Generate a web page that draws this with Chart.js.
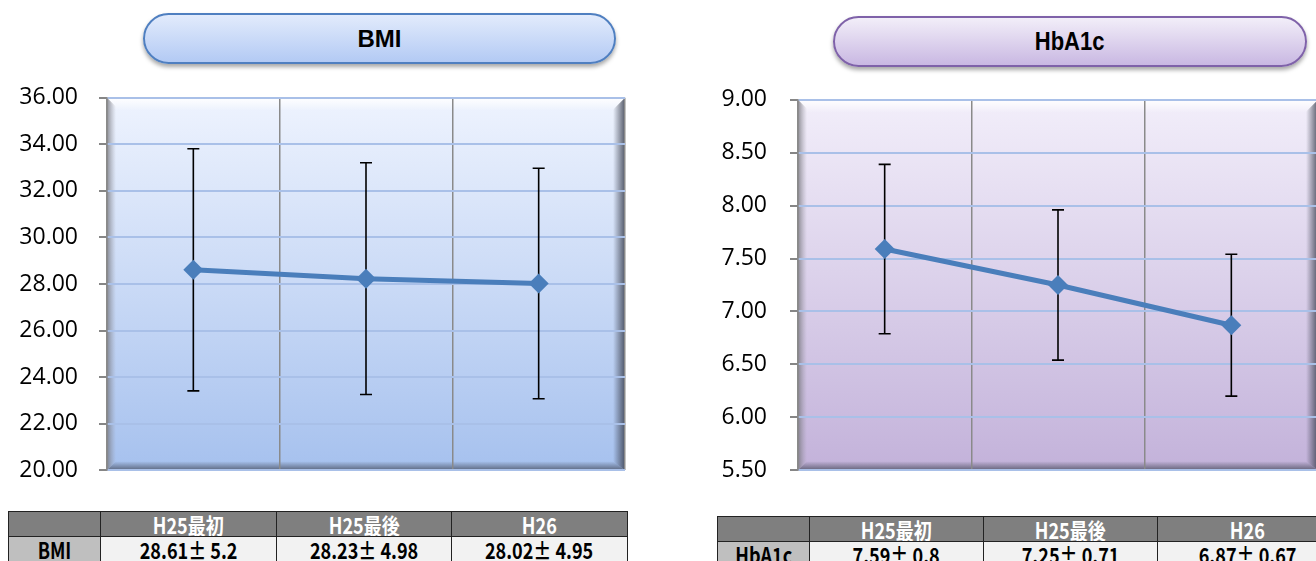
<!DOCTYPE html>
<html>
<head>
<meta charset="utf-8">
<script src="https://cdn.jsdelivr.net/npm/chart.js@4.4.1/dist/chart.umd.min.js"></script>
<style>
  body { margin: 0; width: 1316px; height: 561px; overflow: hidden; background: #fff; position: relative; }
  .title {
    position: absolute; height: 51px; border-radius: 26px; box-sizing: border-box;
    display: flex; align-items: center; justify-content: center;
    font: bold 24px "Liberation Sans", Arial, sans-serif; color: #000;
    box-shadow: 0 3px 4px rgba(0,0,0,0.35);
  }
  #t1 { left: 143px; top: 13px; width: 473px; border: 2px solid #4f7fc0;
        background: linear-gradient(#e2ebfc, #b3caf4); }
  #t2 { left: 833px; top: 16px; width: 474px; border: 2px solid #7f62a9;
        background: linear-gradient(#f2eef9, #c9b8e2); }
  #t2 span { display: inline-block; transform: scaleX(0.88); font-size: 25px; }
  canvas { position: absolute; top: 63px; }
  table { position: absolute; border-collapse: collapse; table-layout: fixed;
          font: bold 22px "Noto Sans CJK JP", sans-serif; }
  td { border: 1.5px solid #222; text-align: center; padding: 0; line-height: 22px; overflow: hidden; white-space: nowrap; }
  tr.head td { background: #7f7f7f; color: #fff; height: 24px; }
  tr.body td { background: #f2f2f2; color: #000; height: 24px; }
  tr.body td:first-child { background: #bfbfbf; }
  td span { display: inline-block; transform: scaleX(0.82); }
</style>
</head>
<body>
<div class="title" id="t1"><span>BMI</span></div>
<div class="title" id="t2"><span>HbA1c</span></div>
<canvas id="bmi" width="660" height="442" style="left:0px"></canvas>
<canvas id="hba" width="680" height="444" style="left:660px"></canvas>
<table id="tab1" style="left:8px; top:511px; width:619px"></table>
<table id="tab2" style="left:717px; top:516px; width:620px"></table>
<script>
// measurement points
const periods = ["H25最初", "H25最後", "H26"];

// BMI mean and SD
const bmiMean = [28.61, 28.23, 28.02];
const bmiSd = [5.2, 4.98, 4.95];
const bmiTicks = { min: 20, max: 36, step: 2 };

// HbA1c mean and SD
const hbaMean = [7.59, 7.25, 6.87];
const hbaSd = [0.8, 0.71, 0.67];
const hbaTicks = { min: 5.5, max: 9, step: 0.5 };

// plot area fill with bevelled edges
const plotBackground = {
  id: "plotBackground",
  beforeDraw(chart, args, opts) {
    const { ctx, chartArea: a } = chart;
    const g = ctx.createLinearGradient(0, a.top, 0, a.bottom);
    g.addColorStop(0, opts.top);
    g.addColorStop(1, opts.bottom);
    ctx.save();
    ctx.fillStyle = g;
    ctx.fillRect(a.left, a.top, a.width, a.height);

    const bw = 9;
    // top highlight
    let lg = ctx.createLinearGradient(0, a.top, 0, a.top + bw + 4);
    lg.addColorStop(0, "rgba(255,255,255,0.95)");
    lg.addColorStop(1, "rgba(255,255,255,0)");
    ctx.fillStyle = lg;
    ctx.beginPath();
    ctx.moveTo(a.left, a.top); ctx.lineTo(a.right, a.top);
    ctx.lineTo(a.right - bw, a.top + bw + 4); ctx.lineTo(a.left + bw, a.top + bw + 4);
    ctx.fill();
    // left shade
    lg = ctx.createLinearGradient(a.left, 0, a.left + bw, 0);
    lg.addColorStop(0, "rgba(110,110,115,0.75)");
    lg.addColorStop(1, "rgba(150,150,160,0)");
    ctx.fillStyle = lg;
    ctx.beginPath();
    ctx.moveTo(a.left, a.top); ctx.lineTo(a.left + bw, a.top + bw);
    ctx.lineTo(a.left + bw, a.bottom - bw); ctx.lineTo(a.left, a.bottom);
    ctx.fill();
    // right shade
    lg = ctx.createLinearGradient(a.right - bw - 3, 0, a.right, 0);
    lg.addColorStop(0, "rgba(60,65,80,0)");
    lg.addColorStop(1, "rgba(60,65,80,0.85)");
    ctx.fillStyle = lg;
    ctx.beginPath();
    ctx.moveTo(a.right, a.top); ctx.lineTo(a.right - bw - 3, a.top + bw + 3);
    ctx.lineTo(a.right - bw - 3, a.bottom - bw); ctx.lineTo(a.right, a.bottom);
    ctx.fill();
    // bottom shade
    lg = ctx.createLinearGradient(0, a.bottom - bw, 0, a.bottom);
    lg.addColorStop(0, "rgba(60,65,80,0)");
    lg.addColorStop(1, "rgba(60,65,80,0.7)");
    ctx.fillStyle = lg;
    ctx.beginPath();
    ctx.moveTo(a.left, a.bottom); ctx.lineTo(a.left + bw, a.bottom - bw);
    ctx.lineTo(a.right - bw - 3, a.bottom - bw); ctx.lineTo(a.right, a.bottom);
    ctx.fill();
    ctx.restore();
  }
};

// mean ± SD whiskers
const errorBars = {
  id: "errorBars",
  beforeDatasetsDraw(chart, args, opts) {
    const { ctx } = chart;
    const y = chart.scales.y;
    const meta = chart.getDatasetMeta(0);
    ctx.save();
    ctx.strokeStyle = "#000";
    ctx.lineWidth = 1.6;
    meta.data.forEach((pt, i) => {
      const m = opts.mean[i], s = opts.sd[i];
      const y1 = y.getPixelForValue(m + s), y2 = y.getPixelForValue(m - s);
      ctx.beginPath();
      ctx.moveTo(pt.x, y1); ctx.lineTo(pt.x, y2);
      ctx.moveTo(pt.x - 6, y1); ctx.lineTo(pt.x + 6, y1);
      ctx.moveTo(pt.x - 6, y2); ctx.lineTo(pt.x + 6, y2);
      ctx.stroke();
    });
    ctx.restore();
  }
};

function makeChart(id, mean, sd, t, axisWidth, labelPad, padding, bg) {
  return new Chart(document.getElementById(id), {
    type: "line",
    data: {
      labels: periods,
      datasets: [{
        data: mean,
        borderColor: "#4a7ebb",
        backgroundColor: "#4a7ebb",
        borderWidth: 5,
        pointStyle: "rectRot",
        pointRadius: 10,
        pointBorderWidth: 0,
        tension: 0
      }]
    },
    options: {
      responsive: false,
      devicePixelRatio: 1,
      animation: false,
      events: [],
      layout: { padding: padding },
      plugins: {
        legend: { display: false },
        tooltip: { enabled: false },
        plotBackground: bg,
        errorBars: { mean: mean, sd: sd }
      },
      scales: {
        x: {
          offset: true,
          grid: { color: "#8a8a8a", lineWidth: 1.5, drawTicks: false, offset: true },
          border: { display: false },
          ticks: { display: false },
          afterFit: s => { s.height = 0; }
        },
        y: {
          min: t.min,
          max: t.max,
          ticks: {
            stepSize: t.step,
            padding: labelPad,
            color: "#000",
            font: { family: "'Open Sans', sans-serif", size: 23 },
            callback: v => v.toFixed(2)
          },
          grid: { color: bg.grid, lineWidth: 2, tickColor: "#868686", tickLength: 8 },
          border: { color: "#8a8a8a", width: 1.5 },
          afterFit: s => { s.width = axisWidth; }
        }
      }
    },
    plugins: [plotBackground, errorBars]
  });
}

makeChart("bmi", bmiMean, bmiSd, bmiTicks, 107, 21,
  { top: 16, bottom: 22, left: 0, right: 35 },
  { top: "#eef3fe", bottom: "#a6c1ee", grid: "#a9c0e8" });

makeChart("hba", hbaMean, hbaSd, hbaTicks, 138, 23,
  { top: 19, bottom: 21, left: 0, right: 22 },
  { top: "#f2eefa", bottom: "#c3b2da", grid: "#a9c0e8" });

// summary tables under each chart
function fillTable(id, name, mean, sd, widths) {
  const tab = document.getElementById(id);
  const cg = document.createElement("colgroup");
  widths.forEach(w => {
    const c = document.createElement("col");
    c.style.width = w + "px";
    cg.appendChild(c);
  });
  tab.appendChild(cg);
  const head = tab.insertRow();
  head.className = "head";
  ["", ...periods].forEach(p => { head.insertCell().innerHTML = "<span>" + p + "</span>"; });
  const row = tab.insertRow();
  row.className = "body";
  row.insertCell().innerHTML = "<span>" + name + "</span>";
  mean.forEach((m, i) => { row.insertCell().innerHTML = "<span>" + m + "± " + sd[i] + "</span>"; });
}

fillTable("tab1", "BMI", bmiMean, bmiSd, [92, 176, 175, 176]);
fillTable("tab2", "HbA1c", hbaMean, hbaSd, [92, 174, 174, 180]);
</script>
</body>
</html>
